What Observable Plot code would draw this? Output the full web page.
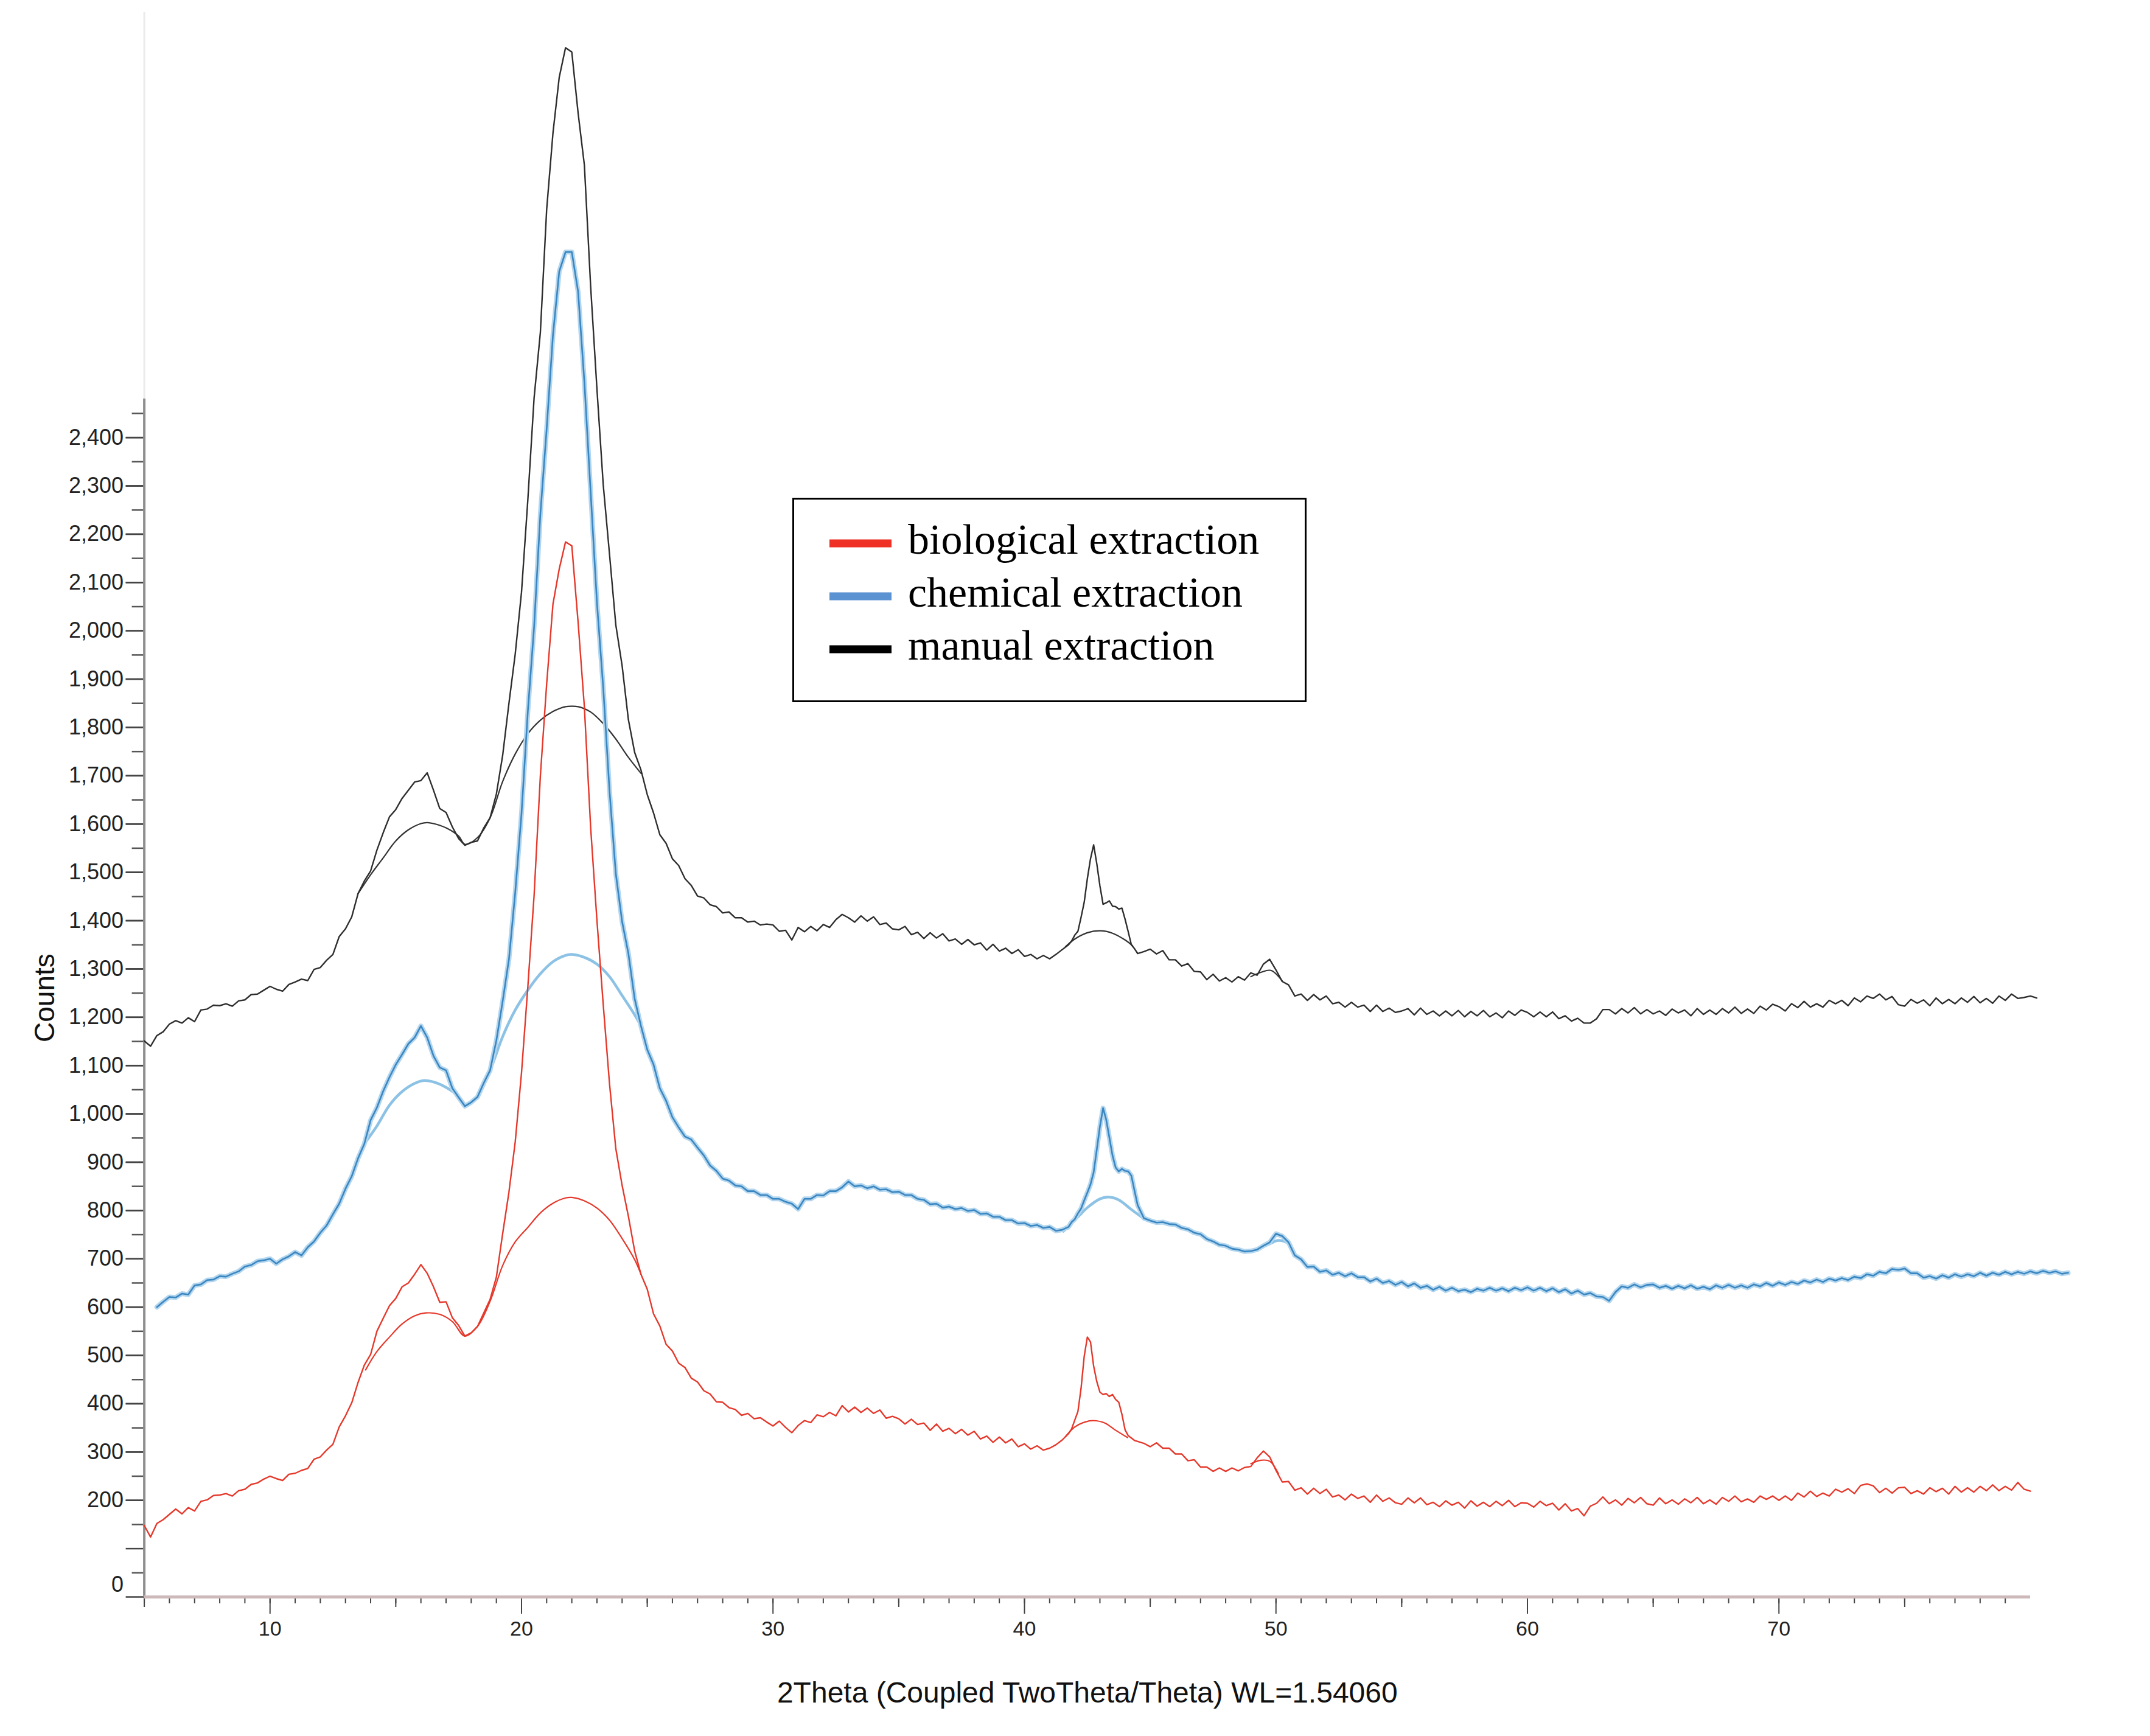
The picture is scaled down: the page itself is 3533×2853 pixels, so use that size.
<!DOCTYPE html>
<html>
<head>
<meta charset="utf-8">
<script src="https://cdn.jsdelivr.net/npm/d3@7"></script>
<script src="https://cdn.jsdelivr.net/npm/@observablehq/plot@0.6"></script>
<style>
  html, body { margin: 0; padding: 0; background: #fff; }
  #wrap { position: relative; width: 3533px; height: 2853px; overflow: hidden; }
  #wrap > svg { position: absolute; left: 0; top: 0; }
</style>
</head>
<body>
<div id="wrap"></div>
<script>
// Diffraction angle grid (degrees 2θ) shared by the three measured patterns
const twoTheta = [
  5,5.25,5.5,5.75,6,6.25,6.5,6.75,7,7.25,7.5,7.75,8,8.25,8.5,8.75,9,9.25,9.5,9.75,
  10,10.25,10.5,10.75,11,11.25,11.5,11.75,12,12.25,12.5,12.75,13,13.25,13.5,13.75,14,14.25,14.5,14.75,
  15,15.25,15.5,15.75,16,16.25,16.5,16.75,17,17.25,17.5,17.75,18,18.25,18.5,18.75,19,19.25,19.5,19.75,
  20,20.25,20.5,20.75,21,21.25,21.5,21.75,22,22.25,22.5,22.75,23,23.25,23.5,23.75,24,24.25,24.5,24.75,
  25,25.25,25.5,25.75,26,26.25,26.5,26.75,27,27.25,27.5,27.75,28,28.25,28.5,28.75,29,29.25,29.5,29.75,
  30,30.25,30.5,30.75,31,31.25,31.5,31.75,32,32.25,32.5,32.75,33,33.25,33.5,33.75,34,34.25,34.5,34.75,
  35,35.25,35.5,35.75,36,36.25,36.5,36.75,37,37.25,37.5,37.75,38,38.25,38.5,38.75,39,39.25,39.5,39.75,
  40,40.25,40.5,40.75,41,41.25,41.5,41.75,
  41.875,42,42.125,42.25,42.375,42.5,42.625,42.75,42.875,43,43.125,43.25,43.375,43.5,43.625,43.75,43.875,44,44.125,44.25,44.375,
  44.5,44.75,
  45,45.25,45.5,45.75,46,46.25,46.5,46.75,47,47.25,47.5,47.75,48,48.25,48.5,48.75,49,49.25,49.5,49.75,
  50,50.25,50.5,50.75,51,51.25,51.5,51.75,52,52.25,52.5,52.75,53,53.25,53.5,53.75,54,54.25,54.5,54.75,
  55,55.25,55.5,55.75,56,56.25,56.5,56.75,57,57.25,57.5,57.75,58,58.25,58.5,58.75,59,59.25,59.5,59.75,
  60,60.25,60.5,60.75,61,61.25,61.5,61.75,62,62.25,62.5,62.75,63,63.25,63.5,63.75,64,64.25,64.5,64.75,
  65,65.25,65.5,65.75,66,66.25,66.5,66.75,67,67.25,67.5,67.75,68,68.25,68.5,68.75,69,69.25,69.5,69.75,
  70,70.25,70.5,70.75,71,71.25,71.5,71.75,72,72.25,72.5,72.75,73,73.25,73.5,73.75,74,74.25,74.5,74.75,
  75,75.25,75.5,75.75,76,76.25,76.5,76.75,77,77.25,77.5,77.75,78,78.25,78.5,78.75,79,79.25,79.5,79.75,
  80,80.25,80.5,80.75,81,81.25,81.5
];

// Measured counts, biological extraction
const biological = [
  148,124,152,160,171,182,172,185,178,198,201,210,211,214,209,220,223,233,236,244,
  250,245,241,254,256,262,266,285,290,304,316,352,375,402,444,480,502,550,577,603,
  618,642,650,668,688,670,642,610,611,578,562,540,547,560,588,616,662,752,838,942,
  1085,1262,1452,1700,1890,2055,2128,2184,2176,2018,1842,1592,1400,1226,1062,928,852,788,716,668,
  637,586,561,523,509,484,475,453,445,427,420,404,403,392,388,376,380,369,371,362,
  354,364,351,340,355,365,361,377,373,382,375,396,383,393,382,391,380,387,370,374,
  369,358,368,357,360,345,358,343,349,338,347,335,343,327,333,320,331,319,327,311,
  317,306,313,304,308,315,325,338,
  348,366,384,432,498,538,528,478,446,424,419,421,415,419,409,403,378,346,334,329,324,
  322,318,
  311,319,308,308,296,296,282,284,269,269,260,267,260,267,261,268,270,288,302,290,
  262,238,239,221,226,213,225,214,223,207,211,201,213,204,209,196,211,198,205,195,
  192,205,195,205,191,196,187,199,190,196,184,199,188,196,187,198,189,200,187,195,
  194,186,198,189,194,180,193,178,183,168,188,194,207,193,201,190,204,195,206,193,
  190,205,193,201,192,203,195,206,193,201,192,206,198,209,197,203,196,209,202,209,
  200,209,200,215,207,219,208,215,209,223,217,224,214,231,234,230,216,225,215,226,
  227,214,220,213,226,218,225,213,229,217,226,217,229,220,232,220,229,221,237,223,
  219,null,null,null,null,null,null
];

// Measured counts, chemical extraction
const chemical = [
  null,null,600,611,621,620,628,626,645,647,656,657,664,663,669,674,684,687,695,697,
  700,690,699,705,714,707,724,736,754,769,792,814,845,871,908,938,987,1013,1047,1076,
  1102,1123,1145,1158,1182,1158,1120,1096,1090,1053,1034,1016,1024,1035,1064,1090,1152,1233,1320,1458,
  1622,1832,2008,2242,2418,2612,2744,2784,2784,2702,2515,2286,2058,1882,1668,1497,1398,1332,1238,1182,
  1133,1102,1053,1027,993,972,953,947,930,914,893,882,866,862,852,850,840,840,832,832,
  824,824,818,814,803,824,824,832,831,840,840,848,860,850,852,846,850,843,844,838,
  839,832,832,824,822,813,814,806,808,803,805,799,801,793,794,787,787,780,780,773,
  774,768,770,764,766,758,760,766,
  776,782,794,804,821,837,854,879,926,974,1012,988,951,914,889,881,886,882,881,872,841,
  811,784,
  779,775,776,772,771,764,761,754,751,741,736,729,727,721,719,715,716,719,727,734,
  752,747,734,707,699,683,684,673,676,667,671,664,670,662,662,653,659,650,654,646,
  652,643,649,640,644,636,642,634,640,633,636,631,638,634,640,634,639,633,640,635,
  641,634,640,633,639,631,637,628,634,626,629,622,621,613,631,643,640,647,641,646,
  647,640,644,638,644,639,645,638,642,637,645,640,646,640,645,640,647,643,650,644,
  651,646,652,648,655,651,657,652,659,655,660,656,663,660,668,665,673,670,679,677,
  680,670,670,661,664,659,666,661,668,663,668,664,671,665,671,667,673,668,673,669,
  674,670,675,671,674,669,671
];

// Measured counts, manual extraction
const manual = [
  1151,1140,1162,1170,1186,1193,1188,1199,1191,1215,1217,1225,1224,1228,1223,1234,1236,1247,1248,1256,
  1264,1258,1254,1268,1273,1279,1276,1299,1303,1318,1330,1367,1383,1408,1456,1482,1503,1546,1582,1615,
  1630,1653,1670,1687,1690,1706,1670,1632,1624,1594,1570,1556,1562,1565,1592,1613,1662,1742,1850,1952,
  2080,2270,2482,2618,2872,3030,3146,3207,3198,3072,2964,2712,2500,2302,2158,2012,1928,1816,1748,1712,
  1661,1623,1578,1560,1528,1514,1487,1473,1451,1447,1433,1429,1416,1418,1406,1406,1397,1399,1391,1393,
  1391,1378,1380,1360,1386,1377,1388,1379,1392,1386,1402,1413,1406,1397,1410,1399,1408,1392,1395,1383,
  1381,1388,1371,1376,1363,1375,1364,1373,1358,1362,1351,1361,1350,1354,1339,1351,1337,1343,1332,1340,
  1326,1330,1321,1328,1321,1330,1340,1350,
  1358,1370,1378,1407,1438,1487,1528,1557,1518,1472,1434,1437,1441,1430,1429,1424,1426,1403,1377,1350,1342,
  1332,1336,
  1341,1331,1338,1319,1319,1306,1311,1295,1294,1278,1289,1275,1282,1273,1284,1277,1292,1287,1310,1320,
  1298,1274,1267,1244,1248,1235,1247,1236,1244,1228,1231,1221,1231,1221,1225,1212,1225,1212,1219,1210,
  1213,1218,1205,1219,1206,1213,1203,1213,1203,1214,1201,1212,1203,1214,1201,1209,1199,1213,1204,1215,
  1210,1201,1211,1201,1211,1197,1203,1192,1198,1188,1188,1197,1216,1216,1207,1218,1209,1220,1207,1216,
  1207,1213,1204,1217,1209,1215,1203,1218,1206,1215,1206,1218,1209,1221,1208,1217,1208,1223,1215,1227,
  1222,1213,1228,1220,1233,1221,1228,1221,1235,1228,1235,1224,1240,1232,1244,1239,1248,1236,1243,1226,
  1223,1237,1229,1236,1224,1240,1228,1237,1228,1240,1231,1243,1230,1239,1229,1244,1235,1248,1239,1241,
  1244,1240,null,null,null,null,null
];

// Fitted amorphous background humps [2θ, counts], one list per hump
const biologicalFit = [
  [[13.8,470],[14.25,508],[14.75,538],[15.25,565],[15.75,582],[16.2,588],[16.75,585],[17.25,570],[17.75,540],
   [18.25,560],[18.75,612],[19.25,686],[19.75,735],[20.25,765],[20.75,795],[21.25,815],[21.75,826],[22,827],
   [22.5,820],[23,805],[23.5,780],[24,742],[24.5,698],[24.75,668]],
  [[41.63,332],[42,352],[42.4,362],[42.75,365],[43.2,360],[43.6,346],[44.1,330]],
  [[49,276],[49.4,283],[49.75,281],[50.1,255]]
];
const chemicalFit = [
  [[13.75,938],[14.25,975],[14.75,1018],[15.25,1046],[15.75,1063],[16.13,1069],[16.5,1066],[17,1055],[17.5,1036],
   [17.75,1018],[18.25,1037],[18.75,1090],[19.25,1160],[19.75,1215],[20.25,1256],[20.75,1290],[21.25,1315],
   [21.75,1328],[22,1330],[22.5,1324],[23,1310],[23.5,1284],[24,1245],[24.5,1205],[24.75,1182]],
  [[41.55,757],[42,780],[42.5,806],[43,824],[43.33,828],[43.75,822],[44.25,802],[44.75,783]],
  [[49.25,719],[49.75,731],[50.1,738],[50.5,731],[50.75,711]]
];
const manualFit = [
  [[13.5,1456],[14,1495],[14.5,1530],[15,1565],[15.5,1588],[16,1601],[16.25,1603],[16.5,1601],[17,1592],
   [17.5,1575],[17.75,1558],[18.25,1572],[18.75,1613],[19.25,1688],[19.75,1745],[20.25,1787],[20.75,1815],
   [21.25,1833],[21.75,1843],[22,1844],[22.25,1843],[22.75,1832],[23.25,1808],[23.75,1776],[24.25,1738],[24.75,1705]],
  [[41.63,1346],[42,1362],[42.5,1375],[43,1379],[43.5,1374],[44,1360],[44.3,1348]],
  [[49,1284],[49.4,1293],[49.8,1297],[50.25,1275]]
];

const seriesNames = ["biological extraction", "chemical extraction", "manual extraction"];
const legendColors = ["#ee3124", "#5b92d2", "#000000"];

// Axis ticks and labels
const yTickLabels = [200,300,400,500,600,700,800,900,1000,1100,1200,1300,1400,1500,1600,1700,1800,1900,2000,2100,2200,2300,2400];
const yZeroLabel = [0];
const yUnlabelled = [100];
const xTickLabels = [10,20,30,40,50,60,70];
const xDomain = [5, 80];
const yDomain = [0, 3280];
const yAxisTop = 2480;
const xTitle = "2Theta (Coupled TwoTheta/Theta) WL=1.54060";
const yTitle = "Counts";

// Long-format rows for the measured patterns
const patterns = [biological, chemical, manual];
const rows = [];
patterns.forEach((vals, s) => vals.forEach((v, i) => {
  if (v != null) rows.push({angle: twoTheta[i], counts: v, series: seriesNames[s]});
}));
const fitRows = [];
[biologicalFit, chemicalFit, manualFit].forEach((humps, s) => humps.forEach((hump, h) => hump.forEach(([a, c]) => {
  fitRows.push({angle: a, counts: c, series: seriesNames[s], segment: `${s}-${h}`});
})));
const of = (name) => rows.filter((d) => d.series === name);
const fitOf = (name) => fitRows.filter((d) => d.series === name);

const yMinor = d3.range(50, yAxisTop, 100);
const yMajor = [...yZeroLabel, ...yUnlabelled, ...yTickLabels];
const xMinor = d3.range(xDomain[0], xDomain[1]);
const xMid = d3.range(xDomain[0], xDomain[1], 10);

const chart = Plot.plot({
  width: 3533,
  height: 2853,
  marginLeft: 236.6,
  marginRight: 197,
  marginTop: 20,
  marginBottom: 229,
  style: {fontFamily: "'Liberation Sans', Arial, sans-serif", color: "#222", background: "white", overflow: "visible"},
  x: {domain: xDomain, axis: null},
  y: {domain: yDomain, axis: null},
  marks: [
    // faint frame edge above the y axis
    Plot.ruleX([xDomain[0]], {y1: yDomain[0], y2: yDomain[1], stroke: "#ebebeb", strokeWidth: 3}),
    // y axis
    Plot.axisY(yMinor, {tickSize: 20, tickFormat: () => "", label: null, stroke: "#555", strokeWidth: 2.5}),
    Plot.axisY(yMajor, {tickSize: 30, tickFormat: () => "", label: null, stroke: "#444", strokeWidth: 2.5}),
    Plot.axisY(yTickLabels, {tickSize: 30, tickPadding: 4, tickFormat: d3.format(","), label: null, fontSize: 36, stroke: "#444", strokeWidth: 2.5}),
    Plot.text(yZeroLabel, {y: (d) => d, frameAnchor: "left", text: (d) => `${d}`, textAnchor: "end", dx: -34, dy: -20, fontSize: 36, fill: "#222"}),
    Plot.ruleX([xDomain[0]], {y1: 0, y2: yAxisTop, stroke: "#8e8e8e", strokeWidth: 4}),
    Plot.text([yTitle], {frameAnchor: "left", y: () => yAxisTop / 2, rotate: -90, textAnchor: "middle", dx: -163, fontSize: 46, fill: "#111"}),
    // x axis
    Plot.axisX(xMinor, {tickSize: 11, tickFormat: () => "", label: null, stroke: "#444", strokeWidth: 2}),
    Plot.axisX(xMid, {tickSize: 17, tickFormat: () => "", label: null, stroke: "#444", strokeWidth: 2}),
    Plot.axisX(xTickLabels, {tickSize: 28, tickPadding: 11, label: null, fontSize: 34, stroke: "#444", strokeWidth: 2}),
    Plot.ruleY([0], {x1: xDomain[0], x2: xDomain[1], stroke: "#cdb9b9", strokeWidth: 5}),
    Plot.text([xTitle], {frameAnchor: "bottom", dy: 158, lineAnchor: "middle", fontSize: 48, fill: "#111"}),
    // fitted background humps
    Plot.line(fitOf(seriesNames[2]), {x: "angle", y: "counts", z: "segment", stroke: "#333", strokeWidth: 2.2, curve: "catmull-rom"}),
    Plot.line(fitOf(seriesNames[1]), {x: "angle", y: "counts", z: "segment", stroke: "#8cc2e5", strokeWidth: 4.5, curve: "catmull-rom"}),
    Plot.line(fitOf(seriesNames[0]), {x: "angle", y: "counts", z: "segment", stroke: "#e5382b", strokeWidth: 2.2, curve: "catmull-rom"}),
    // measured patterns
    Plot.line(of(seriesNames[2]), {x: "angle", y: "counts", stroke: "#2e2e2e", strokeWidth: 2.4}),
    Plot.line(of(seriesNames[1]), {x: "angle", y: "counts", stroke: "#b3d6ee", strokeWidth: 8}),
    Plot.line(of(seriesNames[1]), {x: "angle", y: "counts", stroke: "#3a86c1", strokeWidth: 2.6}),
    Plot.line(of(seriesNames[0]), {x: "angle", y: "counts", stroke: "#e5382b", strokeWidth: 2.4})
  ]
});

const wrap = document.getElementById("wrap");
wrap.appendChild(chart);

// Legend box
const legend = d3.select(wrap).append("svg")
  .attr("width", 845).attr("height", 336)
  .style("left", "1302px").style("top", "818px");
legend.append("rect")
  .attr("x", 1.5).attr("y", 1.5).attr("width", 842).attr("height", 333)
  .attr("fill", "white").attr("stroke", "black").attr("stroke-width", 3);
const item = legend.selectAll("g").data(seriesNames).join("g")
  .attr("transform", (d, i) => `translate(0,${75 + i * 87})`);
item.append("rect")
  .attr("x", 61).attr("y", -6.5).attr("width", 102).attr("height", 13)
  .attr("fill", (d, i) => legendColors[i]);
item.append("text")
  .attr("x", 190).attr("y", 17)
  .attr("font-family", "'Liberation Serif', 'Times New Roman', serif")
  .attr("font-size", 70)
  .attr("fill", "#000")
  .text((d) => d);
</script>
</body>
</html>
